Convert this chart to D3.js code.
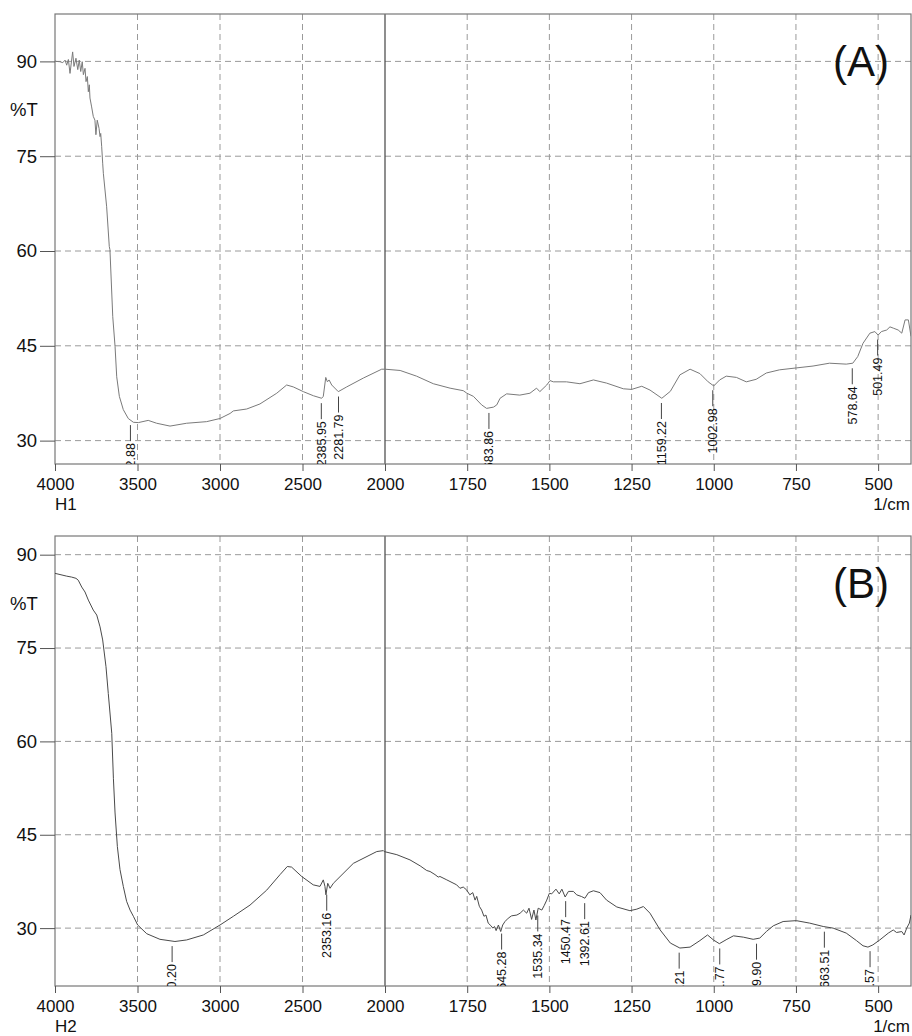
<!DOCTYPE html>
<html>
<head>
<meta charset="utf-8">
<script src="https://cdn.jsdelivr.net/npm/d3@7"></script>
<style>
  body { margin: 0; background: #fff; }
  svg { display: block; font-family: "Liberation Sans", Arial, Helvetica, sans-serif; }
</style>
</head>
<body>
<svg id="chart"></svg>
<script>
// ---- data ----
var waveA = [4000,3994,3970,3953,3939,3929,3919,3909,3893,3885,3873,3862,3853,3844,3835,3828,3818,3812,3804,3798,3792,3788,3778,3768,3758,3752,3744,3733,3727,3723,3717,3711,3707,3687,3671,3667,3650,3636,3626,3610,3586,3556,3525,3495,3435,3384,3303,3202,3081,3000,2939,2919,2838,2758,2656,2596,2556,2495,2434,2384,2374,2359,2349,2339,2323,2283,2232,2131,2020,2000,1954,1904,1853,1802,1762,1751,1731,1706,1691,1670,1660,1650,1630,1590,1559,1539,1529,1508,1498,1488,1448,1407,1366,1326,1275,1250,1219,1194,1158,1132,1103,1072,1042,1017,1000,982,962,931,901,871,840,800,749,698,648,597,577,562,546,525,510,500,490,474,464,454,439,428,418,408,400];
var transA = [90.1,90.0,89.95,89.8,90.2,89.4,90.3,88.1,91.5,89.2,90.5,88.7,90.2,88.4,89.95,87.9,88.9,86.8,87.6,85.2,86.3,84.2,82.8,81.3,80.7,78.4,80.7,79.4,78.1,78.6,76.5,73.9,72.3,67.0,60.7,60.2,49.6,44.9,40.1,37.0,34.9,33.5,32.9,32.85,33.2,32.75,32.3,32.75,33.0,33.5,34.3,34.7,35.0,35.8,37.5,38.8,38.5,37.75,37.1,36.7,37.0,40.0,39.3,39.6,38.8,37.75,38.5,39.9,41.3,41.3,41.1,40.2,39.0,38.3,37.9,37.5,37.0,35.65,35.1,35.3,35.65,36.7,37.4,37.2,37.5,38.3,37.75,38.8,39.5,39.3,39.3,39.0,39.6,39.1,38.2,38.1,38.6,38.0,36.7,37.8,40.4,41.3,40.6,39.3,38.65,39.6,40.2,40.0,39.3,39.7,40.7,41.2,41.5,41.8,42.25,42.1,42.25,43.3,45.4,47.0,47.25,46.7,47.25,47.5,48.0,47.8,47.5,47.0,49.1,49.1,46.5];

var waveB = [4000,3929,3899,3873,3859,3838,3818,3798,3768,3747,3727,3711,3691,3677,3656,3646,3636,3622,3606,3586,3566,3545,3525,3499,3444,3364,3273,3202,3101,3000,2919,2818,2717,2636,2592,2566,2505,2435,2394,2374,2364,2358,2347,2333,2313,2192,2050,2010,2005,1964,1924,1893,1873,1863,1848,1838,1833,1812,1782,1772,1762,1752,1742,1733,1726,1721,1713,1706,1699,1693,1686,1678,1672,1667,1662,1655,1648,1642,1635,1625,1615,1599,1589,1579,1569,1562,1554,1547,1541,1534,1523,1516,1508,1500,1493,1480,1470,1462,1452,1442,1427,1417,1402,1392,1381,1366,1346,1326,1295,1255,1234,1214,1194,1163,1132,1103,1072,1042,1019,1001,983,960,940,910,880,860,840,819,789,749,708,667,637,597,566,546,531,516,495,469,454,444,428,421,413,405,400];
var transB = [87.0,86.55,86.4,86.2,85.9,84.8,84.0,82.7,81.1,80.3,78.4,76.3,72.0,67.7,61.3,54.0,48.5,43.1,39.4,36.7,34.3,32.9,31.9,30.5,29.1,28.2,27.85,28.1,28.9,30.5,31.9,33.7,36.1,38.6,39.9,39.8,38.3,36.95,36.7,37.75,36.7,35.35,37.2,36.4,37.2,40.4,42.3,42.45,42.3,41.8,40.96,40.0,39.25,39.1,38.6,38.2,38.3,37.75,36.95,36.4,36.6,36.15,35.35,35.7,34.5,35.1,33.5,32.9,31.9,32.1,30.8,30.4,30.0,30.26,29.6,30.5,29.45,30.5,31.06,31.6,31.97,32.1,32.4,32.9,32.4,33.2,31.4,32.9,31.3,33.2,32.9,33.6,34.5,35.6,35.5,36.26,35.5,36.26,35.0,35.9,35.9,35.35,35.07,34.8,35.7,36.0,35.7,34.5,33.4,32.8,33.05,33.47,32.4,29.7,27.6,26.8,26.95,28.0,28.9,28.1,27.5,28.2,28.76,28.55,28.2,28.4,29.45,30.37,31.06,31.2,30.8,30.26,30.0,29.2,28.0,27.16,26.95,27.3,28.1,29.2,29.7,29.3,29.45,28.9,30.0,30.8,32.1];

var peaksA = [3542.88, 2385.95, 2281.79, 1683.86, 1159.22, 1002.98, 578.64, 501.49];
var peaksB = [3290.20, 2353.16, 1645.28, 1535.34, 1450.47, 1392.61, 1105.21, 981.77, 869.90, 663.51, 524.57];

var xTicks = [4000, 3500, 3000, 2500, 2000, 1750, 1500, 1250, 1000, 750, 500];
var yTicks = [90, 75, 60, 45, 30];

var svg = d3.select("#chart")
            .attr("width", 912)
            .attr("height", 1036);

// wavenumber axis is compressed 2x above 2000, like the instrument printout
var xScale = d3.scaleLinear()
               .domain([4000, 2000, 400])
               .range([55, 385, 911]);

var panels = [
  {id: "A", name: "H1", top: 14, bottom: 464, yDomain: [26.3, 97.5], wave: waveA, trans: transA, peaks: peaksA, stroke: "#7a7a7a"},
  {id: "B", name: "H2", top: 536, bottom: 986, yDomain: [20.7, 93], wave: waveB, trans: transB, peaks: peaksB, stroke: "#4a4a4a"}
];

panels.forEach(function(p)
{
  var yScale = d3.scaleLinear()
                 .domain(p.yDomain)
                 .range([p.bottom, p.top]);

  var g = svg.append("g").classed("panel", true);

  g.append("clipPath")
   .attr("id", "clip" + p.id)
   .append("rect")
   .attr("x", 55).attr("y", p.top)
   .attr("width", 911 - 55).attr("height", p.bottom - p.top);

  // grid
  g.selectAll("line.hgrid")
   .data(yTicks)
   .enter()
   .append("line")
   .classed("hgrid", true)
   .attr("x1", 55).attr("x2", 911)
   .attr("y1", function(d) {return yScale(d)})
   .attr("y2", function(d) {return yScale(d)})
   .attr("stroke", "#9a9a9a")
   .attr("stroke-dasharray", "6,4");

  g.selectAll("line.vgrid")
   .data(xTicks.filter(function(d) {return d != 4000}))
   .enter()
   .append("line")
   .classed("vgrid", true)
   .attr("x1", function(d) {return xScale(d)})
   .attr("x2", function(d) {return xScale(d)})
   .attr("y1", p.top).attr("y2", p.bottom)
   .attr("stroke", function(d) {return d == 2000 ? "#444" : "#9a9a9a"})
   .attr("stroke-width", function(d) {return d == 2000 ? 1.2 : 1})
   .attr("stroke-dasharray", function(d) {return d == 2000 ? null : "6,4"});

  // frame
  g.append("rect")
   .attr("x", 55).attr("y", p.top)
   .attr("width", 911 - 55).attr("height", p.bottom - p.top)
   .attr("fill", "none")
   .attr("stroke", "#777")
   .attr("stroke-width", 1.2);

  // y axis
  var yAxis = d3.axisLeft(yScale)
                .tickValues(yTicks)
                .tickSize(15)
                .tickPadding(3);
  var ya = g.append("g")
            .attr("transform", "translate(55,0)")
            .call(yAxis);
  ya.select(".domain").remove();
  ya.selectAll("line").attr("stroke", "#555");
  ya.selectAll("text")
    .attr("font-size", 18.5)
    .attr("fill", "#111")
    .attr("font-family", "Liberation Sans, Arial, sans-serif");

  // x axis
  var xAxis = d3.axisBottom(xScale)
                .tickValues(xTicks)
                .tickFormat(d3.format("d"))
                .tickSize(7)
                .tickPadding(7.4);
  var xa = g.append("g")
            .attr("transform", "translate(0," + p.bottom + ")")
            .call(xAxis);
  xa.select(".domain").remove();
  xa.selectAll("line").attr("stroke", "#555");
  xa.selectAll("text")
    .attr("font-size", 17)
    .attr("fill", "#111")
    .attr("font-family", "Liberation Sans, Arial, sans-serif");

  g.append("text")
   .attr("x", 10).attr("y", yScale(90) + 55)
   .attr("font-size", 18.5)
   .attr("fill", "#111")
   .text("%T");

  g.append("text")
   .attr("x", 55).attr("y", p.bottom + 46)
   .attr("font-size", 17)
   .attr("fill", "#111")
   .text(p.name);

  g.append("text")
   .attr("x", 910).attr("y", p.bottom + 46)
   .attr("text-anchor", "end")
   .attr("font-size", 17)
   .attr("fill", "#111")
   .text("1/cm");

  g.append("text")
   .attr("x", 889).attr("y", p.top + 62)
   .attr("text-anchor", "end")
   .attr("font-size", 42)
   .attr("fill", "#111")
   .text("(" + p.id + ")");

  // spectrum
  var pts = p.wave.map(function(w, i) {return {w: w, t: p.trans[i]}});
  var line = d3.line()
               .x(function(d) {return xScale(d.w)})
               .y(function(d) {return yScale(d.t)});

  var plot = g.append("g").attr("clip-path", "url(#clip" + p.id + ")");

  plot.append("path")
      .datum(pts)
      .attr("d", line)
      .attr("fill", "none")
      .attr("stroke", p.stroke)
      .attr("stroke-width", 1);

  // peak markers: leader below the curve, value written upward
  var tAt = function(w)
  {
    var i = 0;
    while (i < p.wave.length - 1 && p.wave[i + 1] > w) i++;
    var w0 = p.wave[i], w1 = p.wave[i + 1];
    var f = (w0 - w) / (w0 - w1);
    return p.trans[i] + f * (p.trans[i + 1] - p.trans[i]);
  };

  var marks = plot.selectAll("g.peak")
                  .data(p.peaks)
                  .enter()
                  .append("g")
                  .classed("peak", true)
                  .attr("transform", function(d) {return "translate(" + xScale(d) + "," + (yScale(tAt(d)) + 5) + ")"});

  marks.append("line")
       .attr("x1", 0).attr("x2", 0)
       .attr("y1", 0).attr("y2", 16)
       .attr("stroke", "#444");

  marks.append("text")
       .attr("transform", "translate(0,18) rotate(-90)")
       .attr("text-anchor", "end")
       .attr("dy", "0.35em")
       .attr("font-size", 12.5)
       .attr("fill", "#111")
       .text(function(d) {return d.toFixed(2)});
});
</script>
</body>
</html>
